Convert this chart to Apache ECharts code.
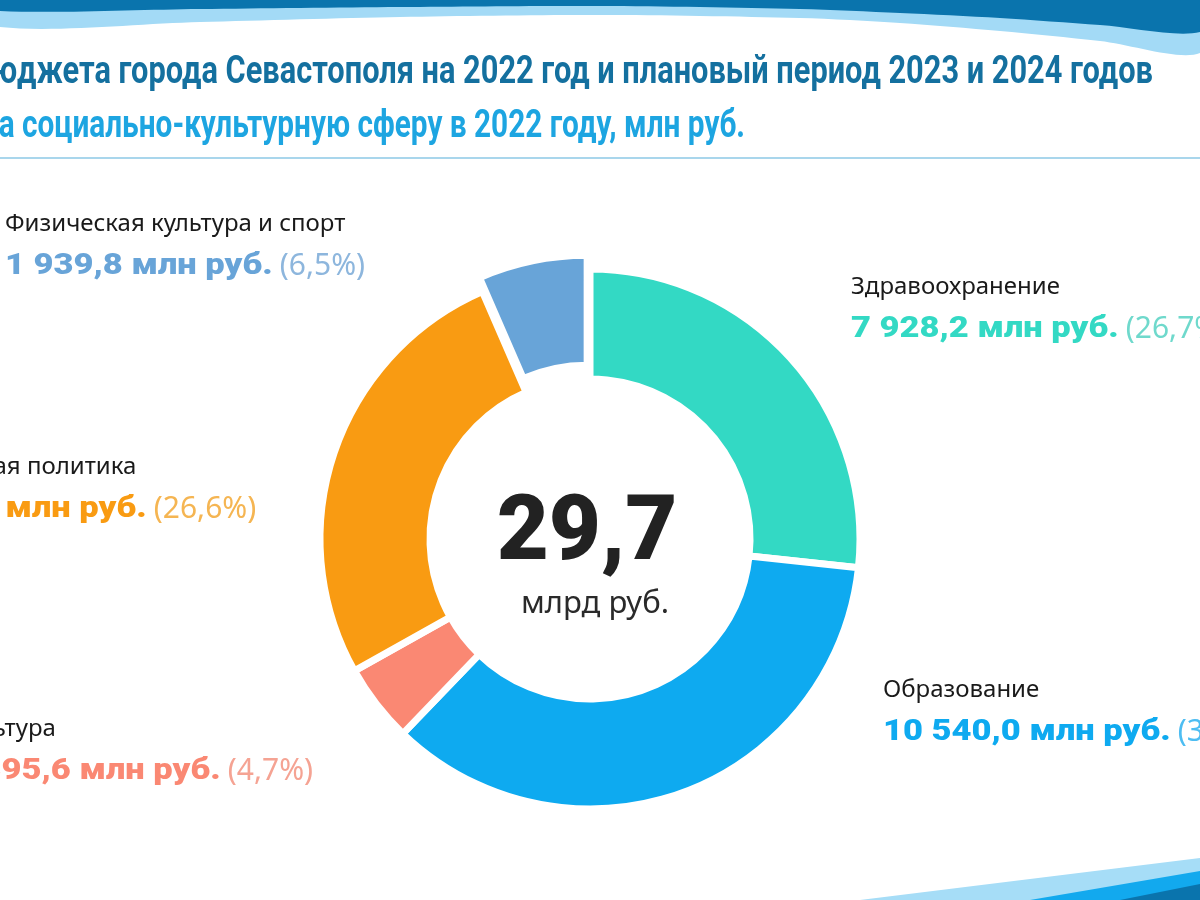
<!DOCTYPE html>
<html><head><meta charset="utf-8">
<script src="https://cdn.jsdelivr.net/npm/echarts@6/dist/echarts.min.js"></script>
<style>html,body{margin:0;padding:0;background:#fff}#c{width:1200px;height:900px}</style>
</head><body><div id="c"></div>
<script>
// ---- data ----
const categories = ['Здравоохранение', 'Образование', 'Культура', 'Социальная политика', 'Физическая культура и спорт'];
const values = [7928.2, 10540.0, 1395.6, 7896.4, 1939.8];
const percents = [26.7, 35.5, 4.7, 26.6, 6.5];
const totalText = '29,7';
const totalUnit = 'млрд руб.';
const unitText = 'млн руб.';
const titleLine1 = 'Структура расходов бюджета города Севастополя на 2022 год и плановый период 2023 и 2024 годов';
const titleLine2 = 'Расходы на социально-культурную сферу в 2022 году, млн руб.';

// ---- style / layout ----
const colors = ['#33D9C4', '#0EAAF0', '#FA8873', '#F99B12', '#68A4D8'];
const pctColors = ['#6FD9CC', '#4DBDF2', '#F5A393', '#F5B552', '#8DB6DD'];
// [left x, centre y of the name line]
const labelPos = [[851, 287], [883, 690], [-47, 729], [-121, 467], [5, 224]];

function fmt(v) {
  const s = v.toFixed(1).split('.');
  const int = s[0].replace(/\B(?=(\d{3})+(?!\d))/g, ' ');
  return int + ',' + s[1];
}
function fmtPct(p) { return '(' + p.toFixed(1).replace('.', ',') + '%)'; }

const mctx = document.createElement('canvas').getContext('2d');
function measure(text, font) { mctx.font = font; return mctx.measureText(text).width; }

const titleFont = 'bold 38px Roboto';
const sx1 = (1153 - 17) / measure('джета города Севастополя на 2022 год и плановый период 2023 и 2024 годов', titleFont);
const sx2 = (745 - 22) / measure('социально-культурную сферу в 2022 году, млн руб.', titleFont);

const nameFont = '24px "Noto Sans"';
const valFont = '900 30px Roboto';
const valScale = 1.15;
const pctFont = '30px "Noto Sans"';

const labelGraphics = [];
categories.forEach((name, i) => {
  const [lx, ly] = labelPos[i];
  const vText = fmt(values[i]) + ' ' + unitText;
  const vW = measure(vText, valFont) * valScale;
  labelGraphics.push(
    { type: 'text', silent: true, x: lx, y: ly, style: { text: name, align: 'left', verticalAlign: 'middle', font: nameFont, fill: '#1a1a1a' } },
    { type: 'text', silent: true, x: lx, y: ly + 42, scaleX: valScale, style: { text: vText, align: 'left', verticalAlign: 'middle', font: valFont, fill: colors[i] } },
    { type: 'text', silent: true, x: lx + vW + 7, y: ly + 42, style: { text: fmtPct(percents[i]), align: 'left', verticalAlign: 'middle', font: pctFont, fill: pctColors[i] } }
  );
});

const data = categories.map((name, i) => ({
  name: name,
  value: values[i],
  selected: i === 4,
  itemStyle: { color: colors[i] }
}));

const lightWave = [[0,0],[1200,0],[1200,53],[1100,41],[1000,31],[900,23],[800,18],[600,15],[400,17],[200,22],[0,27]];
const darkWave = [[0,0],[1200,0],[1200,32],[1100,25],[1000,18],[900,13],[800,9],[600,6],[400,7],[200,9],[0,11]];

const chart = echarts.init(document.getElementById('c'), null, { renderer: 'canvas' });
chart.setOption({
  backgroundColor: '#ffffff',
  animation: false,
  graphic: [
    { type: 'polygon', silent: true, shape: { points: lightWave, smooth: 0.3 }, style: { fill: '#A3DAF6' } },
    { type: 'polygon', silent: true, shape: { points: darkWave, smooth: 0.3 }, style: { fill: '#0A74AD' } },
    { type: 'polygon', silent: true, shape: { points: [[860, 900], [1200, 858], [1200, 900]] }, style: { fill: '#A6DDF7' } },
    { type: 'polygon', silent: true, shape: { points: [[1030, 900], [1200, 871], [1200, 900]] }, style: { fill: '#12A9EE' } },
    { type: 'polygon', silent: true, shape: { points: [[1120, 900], [1200, 884], [1200, 900]] }, style: { fill: '#0A74AD' } },
    { type: 'line', silent: true, shape: { x1: 0, y1: 158, x2: 1200, y2: 158 }, style: { stroke: '#A9D6EC', lineWidth: 2 } },
    { type: 'text', silent: true, x: 1153, y: 73, scaleX: sx1, style: { text: titleLine1, x: 0, y: 0, align: 'right', verticalAlign: 'middle', font: titleFont, fill: '#14709F' } },
    { type: 'text', silent: true, x: 745, y: 127, scaleX: sx2, style: { text: titleLine2, x: 0, y: 0, align: 'right', verticalAlign: 'middle', font: titleFont, fill: '#1DA5E1' } },
    { type: 'text', silent: true, x: 587, y: 536, style: { text: totalText, align: 'center', verticalAlign: 'middle', font: '900 90px Roboto', fill: '#222222' } },
    { type: 'text', silent: true, x: 595, y: 604, style: { text: totalUnit, align: 'center', verticalAlign: 'middle', font: '31px "Noto Sans"', fill: '#2a2a2a' } }
  ].concat(labelGraphics),
  series: [{
    type: 'pie',
    center: [590, 539],
    radius: [160, 270],
    startAngle: 90,
    clockwise: true,
    selectedMode: 'single',
    selectedOffset: 14,
    avoidLabelOverlap: false,
    itemStyle: { borderColor: '#ffffff', borderWidth: 7 },
    emphasis: { disabled: true },
    label: { show: false },
    labelLine: { show: false },
    data: data
  }]
});
</script></body></html>
